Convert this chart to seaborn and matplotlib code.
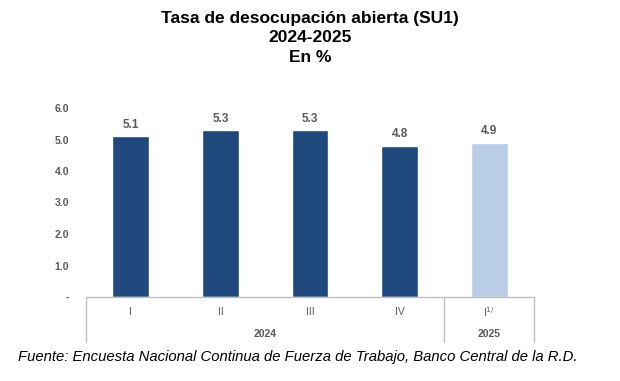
import matplotlib
matplotlib.use("Agg")
import matplotlib.pyplot as plt
import matplotlib.transforms as mtransforms
import seaborn as sns
import pandas as pd

# Datos
trimestres = ["I", "II", "III", "IV", "I$^{1/}$"]
anios = ["2024", "2024", "2024", "2024", "2025"]
tasas = [5.1, 5.3, 5.3, 4.8, 4.9]
grupos_anio = [("2024", 0, 3), ("2025", 4, 4)]

colores = ["#1F497D", "#1F497D", "#1F497D", "#1F497D", "#B9CDE5"]

df = pd.DataFrame({
    "periodo": [f"{t}-{a}" for t, a in zip(["I", "II", "III", "IV", "I"], anios)],
    "tasa": tasas,
})

sns.set_style("white")
plt.rcParams["font.family"] = ["Liberation Sans", "DejaVu Sans"]

fig = plt.figure(figsize=(6.2, 3.81), dpi=100)
ax = fig.add_axes([86 / 620, 1 - 297 / 381, 448 / 620, 189 / 381])

sns.barplot(data=df, x="periodo", y="tasa", hue="periodo", palette=colores,
            width=0.41, legend=False, ax=ax, saturation=1)

ax.set_xlim(-0.5, 4.5)
ax.set_ylim(0, 6)
ax.set_xlabel("")
ax.set_ylabel("")
ax.set_xticks([])
ax.set_yticks([0, 1, 2, 3, 4, 5, 6])
ax.set_yticklabels(["-", "1.0", "2.0", "3.0", "4.0", "5.0", "6.0"])
ax.tick_params(axis="y", length=0, pad=12, labelsize=7.5, labelcolor="#595959")
for lbl in ax.get_yticklabels():
    lbl.set_fontweight("bold")
for s in ["top", "right", "left", "bottom"]:
    ax.spines[s].set_visible(False)

# Etiquetas de valor
for i, v in enumerate(tasas):
    ax.text(i, v + 0.17, f"{v:.1f}", ha="center", va="bottom", fontsize=8.5,
            fontweight="bold", color="#595959")

# Eje x multinivel
trans = mtransforms.blended_transform_factory(ax.transData, fig.transFigure)
y_axis = 1 - 297 / 381
y_bottom = 1 - 342 / 381
linea = "#BFBFBF"
ax.plot([-0.5, 4.5], [0, 0], color=linea, lw=1, clip_on=False)
for xv in [-0.5, 3.5, 4.5]:
    ax.plot([xv, xv], [y_axis, y_bottom], color=linea, lw=1, transform=trans, clip_on=False)

for i, t in enumerate(trimestres):
    ax.text(i, 1 - 312 / 381, t, transform=trans, ha="center", va="center",
            fontsize=7.5, color="#595959")
for nombre, a, b in grupos_anio:
    ax.text((a + b) / 2, 1 - 334 / 381, nombre, transform=trans, ha="center",
            va="center", fontsize=7.5, color="#595959", fontweight="bold")

# Titulos
for texto, ypix in [("Tasa de desocupación abierta (SU1)", 18),
                    ("2024-2025", 38), ("En %", 58)]:
    fig.text(0.5, 1 - ypix / 381, texto, ha="center", va="center",
             fontsize=12.5, fontweight="bold", color="black")

fig.text(298 / 620, 1 - 357 / 381,
         "Fuente: Encuesta Nacional Continua de Fuerza de Trabajo, Banco Central de la R.D.",
         ha="center", va="center", fontsize=10.7, style="italic", color="black")

fig.savefig("out.png", dpi=100)
